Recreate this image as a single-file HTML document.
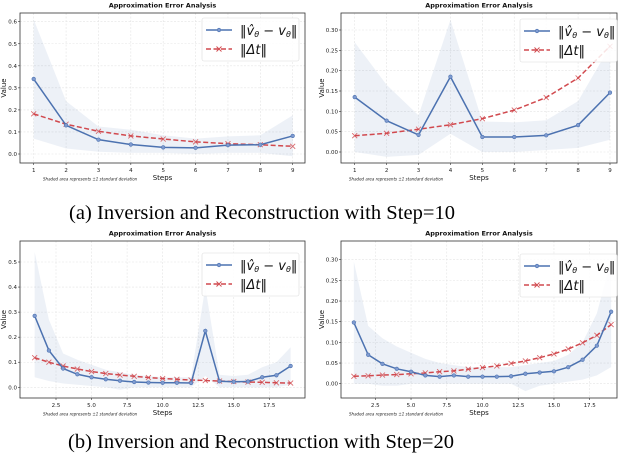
<!DOCTYPE html>
<html><head><meta charset="utf-8">
<style>
html,body{margin:0;padding:0;background:#fff;}
svg{display:block;font-family:"DejaVu Sans","Liberation Sans",sans-serif;}
</style></head>
<body>
<svg id="fig" width="624" height="462" viewBox="0 0 624 462" xmlns="http://www.w3.org/2000/svg">
<text x="262" y="219" text-anchor="middle" font-family="Liberation Serif, serif" font-size="20.5" textLength="386" fill="#000">(a) Inversion and Reconstruction with Step=10</text>
<text x="261" y="448" text-anchor="middle" font-family="Liberation Serif, serif" font-size="20.5" textLength="386" fill="#000">(b) Inversion and Reconstruction with Step=20</text>
</svg>
<script>
// Panel 1 data (Step=10, left)
const p1Steps=[1,2,3,4,5,6,7,8,9];
const p1Blue=[0.34,0.13,0.065,0.043,0.03,0.028,0.04,0.042,0.082];
const p1Red=[0.182,0.135,0.103,0.082,0.068,0.055,0.047,0.042,0.035];
const p1Upper=[0.61,0.24,0.125,0.11,0.085,0.07,0.08,0.085,0.175];
const p1Lower=[0.07,0.025,0.01,0.005,0.005,0.0,0.005,0.005,-0.01];
const p1YTicks=[0,0.1,0.2,0.3,0.4,0.5,0.6];
const p1YLabels=["0.0","0.1","0.2","0.3","0.4","0.5","0.6"];
const p1XTicks=[1,2,3,4,5,6,7,8,9];
const p1XLabels=["1","2","3","4","5","6","7","8","9"];
// Panel 2 data (Step=10, right)
const p2Steps=[1,2,3,4,5,6,7,8,9];
const p2Blue=[0.135,0.077,0.042,0.185,0.037,0.037,0.041,0.066,0.146];
const p2Red=[0.04,0.046,0.056,0.067,0.082,0.103,0.134,0.182,0.26];
const p2Upper=[0.27,0.165,0.09,0.325,0.075,0.073,0.078,0.125,0.26];
const p2Lower=[0.0,-0.012,-0.007,0.045,0.0,0.0,0.005,0.01,0.03];
const p2YTicks=[0,0.05,0.1,0.15,0.2,0.25,0.3];
const p2YLabels=["0.00","0.05","0.10","0.15","0.20","0.25","0.30"];
const p2XTicks=[1,2,3,4,5,6,7,8,9];
const p2XLabels=["1","2","3","4","5","6","7","8","9"];
// Panel 3 data (Step=20, left)
const p3Steps=[1,2,3,4,5,6,7,8,9,10,11,12,13,14,15,16,17,18,19];
const p3Blue=[0.285,0.147,0.075,0.052,0.04,0.032,0.026,0.021,0.019,0.018,0.018,0.017,0.225,0.024,0.022,0.023,0.04,0.048,0.085];
const p3Red=[0.118,0.1,0.085,0.073,0.063,0.055,0.049,0.044,0.039,0.035,0.032,0.029,0.027,0.025,0.023,0.021,0.02,0.018,0.017];
const p3Upper=[0.54,0.27,0.135,0.11,0.09,0.07,0.06,0.05,0.045,0.04,0.04,0.04,0.4,0.05,0.045,0.05,0.08,0.1,0.16];
const p3Lower=[0.04,0.025,0.015,0.01,0.005,0.0,-0.01,0.0,0.0,0.0,0.0,0.0,0.045,0.0,0.0,0.0,0.0,0.0,0.01];
const p3YTicks=[0,0.1,0.2,0.3,0.4,0.5];
const p3YLabels=["0.0","0.1","0.2","0.3","0.4","0.5"];
const p3XTicks=[2.5,5,7.5,10,12.5,15,17.5];
const p3XLabels=["2.5","5.0","7.5","10.0","12.5","15.0","17.5"];
// Panel 4 data (Step=20, right)
const p4Steps=[1,2,3,4,5,6,7,8,9,10,11,12,13,14,15,16,17,18,19];
const p4Blue=[0.148,0.07,0.048,0.036,0.029,0.02,0.017,0.02,0.017,0.017,0.017,0.018,0.024,0.027,0.03,0.04,0.058,0.092,0.174];
const p4Red=[0.018,0.019,0.021,0.022,0.024,0.026,0.029,0.031,0.035,0.039,0.043,0.049,0.055,0.063,0.072,0.084,0.099,0.117,0.143];
const p4Upper=[0.295,0.14,0.11,0.09,0.075,0.06,0.05,0.045,0.04,0.04,0.04,0.04,0.045,0.05,0.055,0.07,0.1,0.17,0.3];
const p4Lower=[0.0,0.0,-0.005,-0.005,0.0,0.0,0.0,0.0,0.0,0.0,0.0,0.0,-0.018,-0.005,0.0,0.005,0.01,0.02,0.04];
const p4YTicks=[0,0.05,0.1,0.15,0.2,0.25,0.3];
const p4YLabels=["0.00","0.05","0.10","0.15","0.20","0.25","0.30"];
const p4XTicks=[2.5,5,7.5,10,12.5,15,17.5];
const p4XLabels=["2.5","5.0","7.5","10.0","12.5","15.0","17.5"];

const NS="http://www.w3.org/2000/svg";
const fig=document.getElementById('fig');
function mk(tag,attrs,parent){const e=document.createElementNS(NS,tag);for(const k in attrs)e.setAttribute(k,attrs[k]);(parent||fig).appendChild(e);return e;}

function panel(id,L,cfg){
  const g=mk('g',{});
  
  
  // axis functions: linear maps from calibration
  const xs=v=>cfg.xa+(v-cfg.xv0)*(cfg.xb-cfg.xa)/(cfg.xv1-cfg.xv0);
  const ys=v=>cfg.ya+(v-cfg.yv0)*(cfg.yb-cfg.ya)/(cfg.yv1-cfg.yv0);
  // grid
  L.yt.forEach((t,i)=>{
    const gl=mk('line',{x1:cfg.l,x2:cfg.r,y1:ys(t),y2:ys(t),stroke:'#e4e4e4','stroke-width':0.6,'stroke-dasharray':'2,1.5'},g);
    
    
    const tk=mk('line',{x1:cfg.l-2,x2:cfg.l,y1:ys(t),y2:ys(t),stroke:'#333','stroke-width':0.6},g);
    
    
    const tx=mk('text',{x:cfg.l-3,y:ys(t)+2,'text-anchor':'end','font-size':5.5,fill:'#222'},g);
    tx.textContent=L.yl[i];
    
    
  });
  L.xt.forEach((t,i)=>{
    const gl=mk('line',{x1:xs(t),x2:xs(t),y1:cfg.t,y2:cfg.b,stroke:'#e4e4e4','stroke-width':0.6,'stroke-dasharray':'2,1.5'},g);
    
    
    const tk=mk('line',{x1:xs(t),x2:xs(t),y1:cfg.b,y2:cfg.b+2,stroke:'#333','stroke-width':0.6},g);
    
    
    const tx=mk('text',{x:xs(t),y:cfg.b+9,'text-anchor':'middle','font-size':5.5,fill:'#222'},g);
    tx.textContent=L.xl[i];
    
    
  });
  // band
  let d='';
  L.s.forEach((s,i)=>{d+=(i?'L':'M')+xs(s)+','+ys(L.up[i]);});
  for(let i=L.s.length-1;i>=0;i--)d+='L'+xs(L.s[i])+','+ys(L.lo[i]);
  const band=mk('path',{d:d+'Z',fill:'#4c72b0','fill-opacity':0.1,stroke:'none'},g);
  
  
  // red dashed line
  const rp=L.s.map((s,i)=>xs(s)+','+ys(L.red[i])).join(' ');
  const rl=mk('polyline',{points:rp,fill:'none',stroke:'#d1494e','stroke-width':1.5,'stroke-dasharray':'5,2.5'},g);
  
  
  L.s.forEach((s,i)=>{
    const x=xs(s),y=ys(L.red[i]);
    const m=mk('path',{d:`M${x-2.5},${y-2.5}L${x+2.5},${y+2.5}M${x-2.5},${y+2.5}L${x+2.5},${y-2.5}`,stroke:'#d1494e','stroke-width':0.9,'stroke-opacity':0.8},g);
    
    
  });
  // blue line
  const bp=L.s.map((s,i)=>xs(s)+','+ys(L.blue[i])).join(' ');
  const bl=mk('polyline',{points:bp,fill:'none',stroke:'#4c72b0','stroke-width':1.5},g);
  
  
  L.s.forEach((s,i)=>{
    const c=mk('circle',{cx:xs(s),cy:ys(L.blue[i]),r:1.8,fill:'#7f9bd0',stroke:'#4c72b0','stroke-width':0.6},g);
    
    
  });
  // frame
  const fr=mk('rect',{x:cfg.l,y:cfg.t,width:cfg.r-cfg.l,height:cfg.b-cfg.t,fill:'none',stroke:'#333','stroke-width':0.8},g);
  
  
  // titles
  const ti=mk('text',{x:(cfg.l+cfg.r)/2,y:cfg.t-5.5,'text-anchor':'middle','font-size':6.5,'font-weight':'bold',fill:'#111'},g);
  ti.textContent='Approximation Error Analysis';
  
  
  const xt=mk('text',{x:(cfg.l+cfg.r)/2,y:cfg.b+17,'text-anchor':'middle','font-size':7,fill:'#111'},g);
  xt.textContent='Steps';
  
  
  const yt=mk('text',{x:0,y:0,'text-anchor':'middle','font-size':7,fill:'#111',transform:`translate(${cfg.l-cfg.ylOff},${(cfg.t+cfg.b)/2}) rotate(-90)`},g);
  yt.textContent='Value';
  
  
  const fn=mk('text',{x:cfg.l+cfg.fnx,y:cfg.b+17.5,'font-size':4,'font-style':'italic',fill:'#222'},g);
  fn.textContent='Shaded area represents ±1 standard deviation';
  
  
  // legend
  const lx=cfg.lg[0],ly=cfg.lg[1];
  const lb=mk('rect',{x:lx,y:ly,width:97,height:43,rx:2,fill:'#fff','fill-opacity':0.85,stroke:'#ddd','stroke-width':0.6},g);
  
  
  const l1=mk('line',{x1:lx+4,x2:lx+30,y1:ly+12,y2:ly+12,stroke:'#4c72b0','stroke-width':1.5},g);
  
  
  mk('circle',{cx:lx+17,cy:ly+12,r:1.8,fill:'#7f9bd0',stroke:'#4c72b0','stroke-width':0.6},g);
  const t1=mk('text',{x:lx+38,y:ly+17,'font-size':13,fill:'#111'},g);
  t1.innerHTML='‖<tspan font-style="italic">v̂</tspan><tspan font-size="8" font-style="italic" dy="2">θ</tspan><tspan dy="-2"> − </tspan><tspan font-style="italic">v</tspan><tspan font-size="8" font-style="italic" dy="2">θ</tspan><tspan dy="-2">‖</tspan>';
  
  
  const l2=mk('line',{x1:lx+4,x2:lx+30,y1:ly+31,y2:ly+31,stroke:'#d1494e','stroke-width':1.5,'stroke-dasharray':'5,2.5'},g);
  
  
  mk('path',{d:`M${lx+14.5},${ly+28.5}L${lx+19.5},${ly+33.5}M${lx+14.5},${ly+33.5}L${lx+19.5},${ly+28.5}`,stroke:'#d1494e','stroke-width':0.9},g);
  const t2=mk('text',{x:lx+38,y:ly+36,'font-size':13,fill:'#111'},g);
  t2.innerHTML='‖<tspan font-style="italic">Δt</tspan>‖';
  
  
}

panel('step10-left',{s:p1Steps,blue:p1Blue,red:p1Red,up:p1Upper,lo:p1Lower,yt:p1YTicks,yl:p1YLabels,xt:p1XTicks,xl:p1XLabels},
 {l:20,r:305,t:13,b:163,xa:33.7,xb:292.7,xv0:1,xv1:9,ya:154,yb:21.7,yv0:0,yv1:0.6,lg:[202,18],ylOff:14,fnx:23});
panel('step10-right',{s:p2Steps,blue:p2Blue,red:p2Red,up:p2Upper,lo:p2Lower,yt:p2YTicks,yl:p2YLabels,xt:p2XTicks,xl:p2XLabels},
 {l:341,r:617,t:13,b:163,xa:354.7,xb:610,xv0:1,xv1:9,ya:152,yb:30,yv0:0,yv1:0.3,lg:[520,19],ylOff:17,fnx:8});
panel('step20-left',{s:p3Steps,blue:p3Blue,red:p3Red,up:p3Upper,lo:p3Lower,yt:p3YTicks,yl:p3YLabels,xt:p3XTicks,xl:p3XLabels},
 {l:20,r:305,t:241,b:398,xa:56,xb:269.3,xv0:2.5,xv1:17.5,ya:387.3,yb:262,yv0:0,yv1:0.5,lg:[202,253],ylOff:14,fnx:23});
panel('step20-right',{s:p4Steps,blue:p4Blue,red:p4Red,up:p4Upper,lo:p4Lower,yt:p4YTicks,yl:p4YLabels,xt:p4XTicks,xl:p4XLabels},
 {l:341,r:617,t:241,b:398,xa:375.3,xb:589.7,xv0:2.5,xv1:17.5,ya:383.7,yb:259.7,yv0:0,yv1:0.3,lg:[520,254],ylOff:17,fnx:8});
</script>
</body></html>
